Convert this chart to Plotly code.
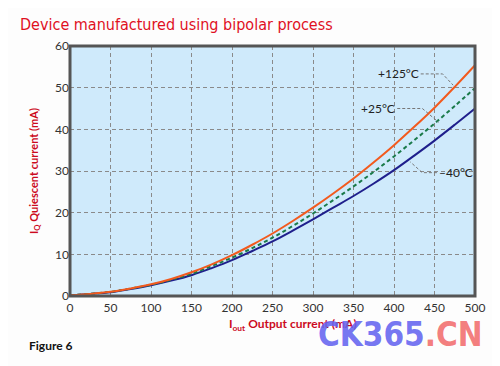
import plotly.graph_objects as go

iout = [0, 25, 50, 75, 100, 125, 150, 175, 200, 225, 250, 275, 300, 325, 350, 375, 400, 425, 450, 475, 500]
iq_125 = [0.2, 0.5, 1.0, 1.8, 2.8, 4.1, 5.7, 7.6, 9.8, 12.3, 15.0, 18.0, 21.2, 24.6, 28.2, 32.1, 36.2, 40.6, 45.2, 50.2, 55.4]
iq_25 = [0.2, 0.5, 1.0, 1.8, 2.7, 3.9, 5.3, 7.2, 9.2, 11.5, 14.0, 16.8, 19.8, 23.0, 26.3, 29.8, 33.5, 37.4, 41.4, 45.6, 49.9]
iq_m40 = [0.2, 0.5, 0.9, 1.7, 2.6, 3.7, 5.0, 6.7, 8.6, 10.8, 13.1, 15.7, 18.4, 21.2, 24.0, 27.0, 30.2, 33.7, 37.3, 41.1, 45.0]
labels = ["+125°C", "+25°C", "–40°C"]
x_ticks = [0, 50, 100, 150, 200, 250, 300, 350, 400, 450, 500]
y_ticks = [0, 10, 20, 30, 40, 50, 60]

fig = go.Figure()
fig.add_trace(go.Scatter(x=iout, y=iq_m40, mode="lines", line=dict(color="#1f1f8c", width=2, shape="spline"), showlegend=False))
fig.add_trace(go.Scatter(x=iout, y=iq_25, mode="lines", line=dict(color="#1a7a4a", width=2, dash="4px,3px", shape="spline"), showlegend=False))
fig.add_trace(go.Scatter(x=iout, y=iq_125, mode="lines", line=dict(color="#f25a1e", width=2, shape="spline"), showlegend=False))

tickfont = dict(family="Lato, sans-serif", size=12, color="#333")
fig.update_xaxes(range=[0, 500], tickvals=x_ticks, showgrid=True, gridcolor="#8a8a8a", griddash="4px,3px",
                 gridwidth=1, zeroline=False, showline=False, ticks="", tickfont=tickfont, fixedrange=True,
                 ticklabelstandoff=3)
fig.update_yaxes(range=[0, 60], tickvals=y_ticks, showgrid=True, gridcolor="#8a8a8a", griddash="4px,3px",
                 gridwidth=1, zeroline=False, showline=False, ticks="", tickfont=tickfont, fixedrange=True,
                 title=dict(text="I<sub>Q</sub> Quiescent current (mA)", font=dict(family="Lato, sans-serif", size=11, color="#cc0a1e", weight="bold"), standoff=14))

# frame
fig.add_shape(type="rect", xref="paper", yref="paper", x0=0, x1=1, y0=0, y1=1,
              line=dict(color="#555", width=3))

lead = dict(color="#777", width=1, dash="3px,2px")
fig.add_shape(type="path", path="M 433,53.3 L 460,53.3 L 473,50.6", line=lead)
fig.add_shape(type="path", path="M 404,45 L 435,45 L 455,41.7", line=lead)
fig.add_shape(type="path", path="M 453,29.6 L 435,29.6 L 420,32.2", line=lead)

afont = dict(family="Lato, sans-serif", size=12, color="#222")
fig.add_annotation(x=433, y=53.3, text=labels[0], showarrow=False, xanchor="right", font=afont)
fig.add_annotation(x=404, y=45, text=labels[1], showarrow=False, xanchor="right", font=afont)
fig.add_annotation(x=453, y=29.6, text=labels[2], showarrow=False, xanchor="left", font=afont)

fig.add_annotation(xref="paper", yref="paper", x=-0.128, y=1.084, text="Device manufactured using bipolar process",
                   showarrow=False, xanchor="left", yanchor="middle",
                   font=dict(family="DejaVu Sans Condensed, DejaVu Sans, sans-serif", size=16, color="#e0101f"))
fig.add_annotation(xref="paper", yref="paper", x=0.55, y=-0.112, text="I<sub>out</sub> Output current (mA)",
                   showarrow=False, xanchor="center", yanchor="middle",
                   font=dict(family="Lato, sans-serif", size=12, color="#cc0a1e", weight="bold"))
fig.add_annotation(xref="paper", yref="paper", x=-0.105, y=-0.196, text="Figure 6",
                   showarrow=False, xanchor="left", yanchor="middle",
                   font=dict(family="Lato, sans-serif", size=12, color="#111", weight="bold"))
fig.add_annotation(xref="paper", yref="paper", x=1.025, y=-0.155, text="<span style='color:rgba(100,100,240,0.9)'>CK365</span><span style='color:rgba(242,110,110,0.9)'>.CN</span>",
                   showarrow=False, xanchor="right", yanchor="middle",
                   font=dict(family="DejaVu Sans Condensed, DejaVu Sans, sans-serif", size=33, weight="bold"))

fig.update_layout(width=492, height=358, margin=dict(l=62, r=25, t=38, b=70),
                  plot_bgcolor="#cfeafb", paper_bgcolor="#fdfdfd")
fig.write_html("out.html")
